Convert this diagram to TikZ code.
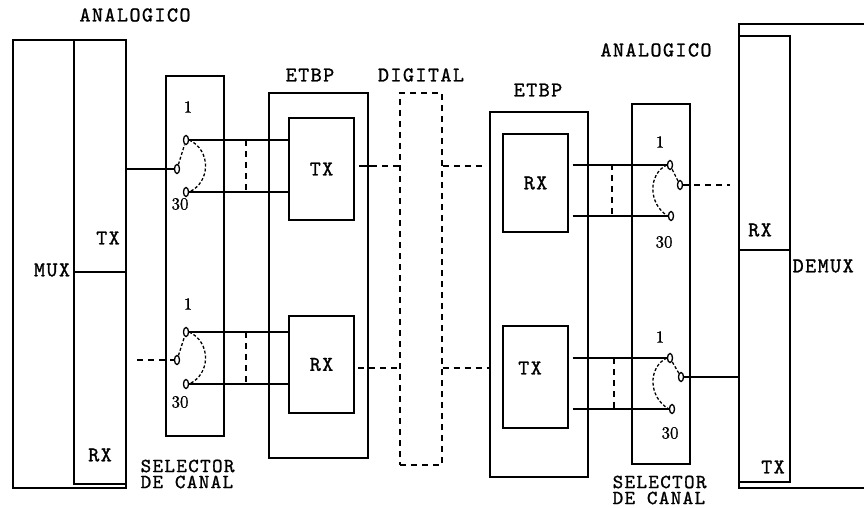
\documentclass[tikz,border=0pt]{standalone}
\usepackage{fontspec}
\usetikzlibrary{shapes.geometric}
\newfontfamily\labfont{lmmono10-regular.otf}[LetterSpace=7, FakeBold=1.2]
\newfontfamily\numfont{lmroman10-regular.otf}[FakeBold=0.8]
\tikzset{
  bx/.style={draw, line width=1.4pt, inner sep=0pt},
  dbx/.style={draw, line width=1.4pt, inner sep=0pt, dash pattern=on 6pt off 5pt},
  contact/.style={draw, ellipse, line width=1.3pt, minimum width=5pt, minimum height=9pt, inner sep=0pt},
  lbl/.style={font=\fontsize{21}{21}\selectfont\labfont, inner sep=0pt},
  sel/.style={font=\fontsize{20}{20}\selectfont\labfont, inner sep=0pt, anchor=west},
  num/.style={font=\fontsize{17}{17}\selectfont\numfont, inner sep=0pt},
  dsh/.style={line width=1.4pt, dash pattern=on 6pt off 5pt},
  arm/.style={line width=1.3pt, dash pattern=on 3pt off 2pt},
  wire/.style={line width=1.4pt}
}
\begin{document}
\begin{tikzpicture}[x=1pt,y=-1pt,line width=1.4pt]
\useasboundingbox (0,0) rectangle (864,508);
% ---------------- MUX ----------------
\node[bx, minimum width=113, minimum height=448] (muxo) at (69.5,264) {};
\node[bx, minimum width=52, minimum height=444] (muxi) at (100,262) {};
\coordinate (muxdl) at (74,272);
\coordinate (muxdr) at (126,272);
\draw[wire] (muxdl) -- (muxdr);
\node[lbl] (muxlab) at (52,270) {MUX};
\node[lbl] (muxtx) at (108,238) {TX};
\node[lbl] (muxrx) at (100,455) {RX};
\node[lbl] (ana1) at (135,15) {ANALOGICO};
% ---------------- Left selector ----------------
\node[bx, minimum width=58, minimum height=360] (selL) at (195,256) {};
\node[num] (n1a) at (188,107) {1};
\node[num] (n30a) at (180,204) {30};
\node[num] (n1b) at (188,304) {1};
\node[num] (n30b) at (180,402) {30};
\node[contact] (lat) at (186,140) {};
\node[contact] (lac) at (177,169) {};
\node[contact] (lab) at (186,192) {};
\node[contact] (lbt) at (186,332) {};
\node[contact] (lbc) at (177,360) {};
\node[contact] (lbb) at (186,384) {};
\draw[arm] (lac) -- (lat);
\draw[arm] (lbc) -- (lbt);
\draw[arm] (lat.east) .. controls (211,150) and (211,182) .. (lab.east);
\draw[arm] (lbt.east) .. controls (211,342) and (211,374) .. (lbb.east);
\node[sel] (selLlab1) at (140,466) {SELECTOR};
\node[sel] (selLlab2) at (140,482) {DE CANAL};
% ---------------- Left ETBP ----------------
\node[lbl] (etbp1) at (310,75) {ETBP};
\node[bx, minimum width=99, minimum height=365] (etbpL) at (318.5,275.5) {};
\node[bx, minimum width=65, minimum height=102, lbl] (txL) at (321.5,169) {TX};
\node[bx, minimum width=65, minimum height=97, lbl] (rxL) at (321.5,364.5) {RX};
% wires left
\draw[wire] (muxi.east |- lac) -- (lac.west);
\coordinate (lbfree) at (137,360);
\draw[dsh] (lbfree) -- (lbc.west);
\draw[wire] (lat.east) -- (txL.west |- lat);
\draw[wire] (lab.east) -- (txL.west |- lab);
\draw[wire] (lbt.east) -- (rxL.west |- lbt);
\draw[wire] (lbb.east) -- (rxL.west |- lbb);
\coordinate (vla1) at (246,140);
\coordinate (vla2) at (246,192);
\draw[dsh] (vla1) -- (vla2);
\coordinate (vlb1) at (246,332);
\coordinate (vlb2) at (246,384);
\draw[dsh] (vlb1) -- (vlb2);
% ---------------- DIGITAL ----------------
\node[lbl] (dig) at (421,75) {DIGITAL};
\node[dbx, minimum width=42, minimum height=372] (digbox) at (421,279) {};
\coordinate (txLo) at (359,166);
\coordinate (txLo2) at (371,166);
\draw[wire] (txLo) -- (txLo2);
\draw[dsh] (txLo2) -- (digbox.west |- txLo);
\coordinate (rxRi) at (483,166);
\draw[dsh] (digbox.east |- txLo) -- (rxRi);
\coordinate (rxLi) at (358,368);
\draw[dsh] (rxLi) -- (digbox.west |- rxLi);
% ---------------- Right ETBP ----------------
\node[lbl] (etbp2) at (538,90) {ETBP};
\node[bx, minimum width=98, minimum height=365] (etbpR) at (539,294.5) {};
\node[bx, minimum width=65, minimum height=98, lbl] (rxR) at (535.5,183) {RX};
\node[bx, minimum width=65, minimum height=102] (txR) at (535.5,377) {};
\node[lbl] (txRlab) at (530,368) {TX};
\draw[dsh] (digbox.east |- rxLi) -- (etbpR.west |- rxLi);
% ---------------- Right selector ----------------
\node[lbl] (ana2) at (656,50) {ANALOGICO};
\node[bx, minimum width=58, minimum height=360] (selR) at (661,284) {};
\node[num] (n1c) at (660,142) {1};
\node[num] (n30c) at (664,242) {30};
\node[num] (n1d) at (660,337) {1};
\node[num] (n30d) at (670,433) {30};
\node[contact] (rat) at (670,165) {};
\node[contact] (rac) at (680,185) {};
\node[contact] (rab) at (671,216) {};
\node[contact] (rbt) at (670,358) {};
\node[contact] (rbc) at (681,377) {};
\node[contact] (rbb) at (672,409) {};
\draw[arm] (rac) -- (rat);
\draw[arm] (rbc) -- (rbt);
\draw[arm] (rat.west) .. controls (648,174) and (648,204) .. (rab.west);
\draw[arm] (rbt.west) .. controls (648,367) and (648,397) .. (rbb.west);
\node[sel] (selRlab1) at (612,482) {SELECTOR};
\node[sel] (selRlab2) at (612,498) {DE CANAL};
\draw[wire] (rxR.east |- rat) ++(4,0) -- (rat.west);
\draw[wire] (rxR.east |- rab) ++(4,0) -- (rab.west);
\draw[wire] (txR.east |- rbt) ++(4,0) -- (rbt.west);
\draw[wire] (txR.east |- rbb) ++(4,0) -- (rbb.west);
\coordinate (vra1) at (612,164);
\coordinate (vra2) at (612,216);
\draw[dsh] (vra1) -- (vra2);
\coordinate (vrb1) at (614,358);
\coordinate (vrb2) at (614,409);
\draw[dsh] (vrb1) -- (vrb2);
\coordinate (racfree) at (730,185);
\draw[dsh] (rac.east) -- (racfree);
% ---------------- DEMUX ----------------
\node[bx, minimum width=51, minimum height=446] (demi) at (764.5,259) {};
\coordinate (demtl) at (739,24);
\coordinate (dembl) at (739,488);
\draw[wire] (870,24) -- (demtl) -- (dembl) -- (870,488);
\coordinate (demdl) at (739,250);
\coordinate (demdr) at (790,250);
\draw[wire] (demdl) -- (demdr);
\node[lbl] (demrx) at (760,230) {RX};
\node[lbl, anchor=west] (demlab) at (792,266) {DEMUX};
\node[lbl] (demtx) at (773,467) {TX};
\draw[wire] (rbc.east) -- (demi.west |- rbc);
\end{tikzpicture}
\end{document}
